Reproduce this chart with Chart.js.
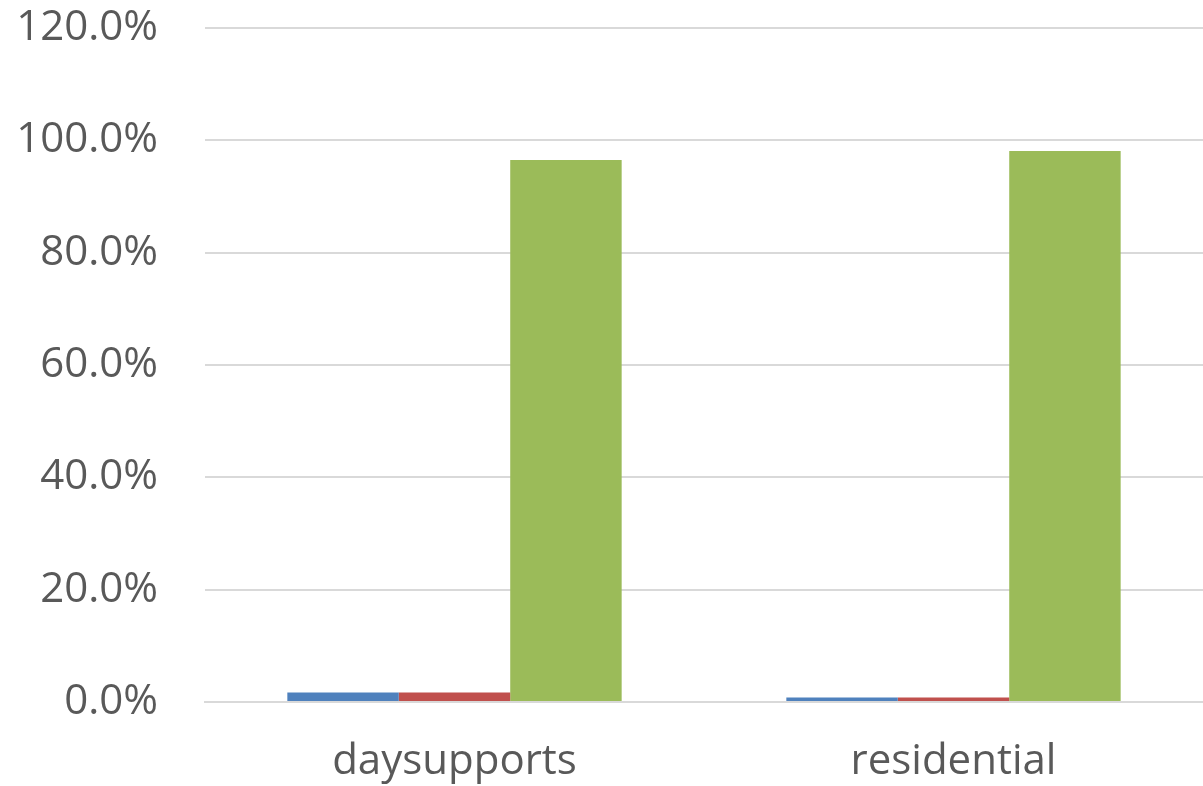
<!DOCTYPE html>
<html>
<head>
<meta charset="utf-8">
<script src="https://cdn.jsdelivr.net/npm/chart.js@4"></script>
<style>
  html, body { margin: 0; padding: 0; background: #fff; }
  #wrap { width: 1203px; height: 786px; position: relative; }
</style>
</head>
<body>
<div id="wrap"><canvas id="chart"></canvas></div>
<script>
// values (percent)
const categories = ['daysupports', 'residential'];
const seriesBlue  = [1.7, 0.8];
const seriesRed   = [1.7, 0.8];
const seriesGreen = [96.5, 98.1];

const tickFont = { family: 'Open Sans', size: 42 };

new Chart(document.getElementById('chart'), {
  type: 'bar',
  data: {
    labels: categories,
    datasets: [
      { data: seriesBlue,  backgroundColor: '#4f81bd' },
      { data: seriesRed,   backgroundColor: '#c0504d' },
      { data: seriesGreen, backgroundColor: '#9bbb59' }
    ]
  },
  options: {
    responsive: true,
    maintainAspectRatio: false,
    animation: false,
    layout: { padding: { top: 28, right: 0, bottom: 0, left: 0 } },
    plugins: { legend: { display: false }, tooltip: { enabled: false } },
    datasets: { bar: { categoryPercentage: 0.67, barPercentage: 1.0 } },
    scales: {
      x: {
        grid: { display: false, drawTicks: false },
        border: { color: '#d9d9d9', width: 2 },
        ticks: { color: '#595959', font: tickFont, padding: 35 },
        afterFit: s => { s.height = 84; }
      },
      y: {
        min: 0,
        max: 120,
        grid: { color: '#d9d9d9', lineWidth: 2, drawTicks: false },
        border: { display: false },
        ticks: {
          stepSize: 20,
          color: '#595959',
          font: tickFont,
          padding: 47,
          callback: v => v.toFixed(1) + '%'
        },
        afterFit: s => { s.width = 205; s.paddingTop = 0; s.paddingBottom = 0; }
      }
    }
  }
});
</script>
</body>
</html>
